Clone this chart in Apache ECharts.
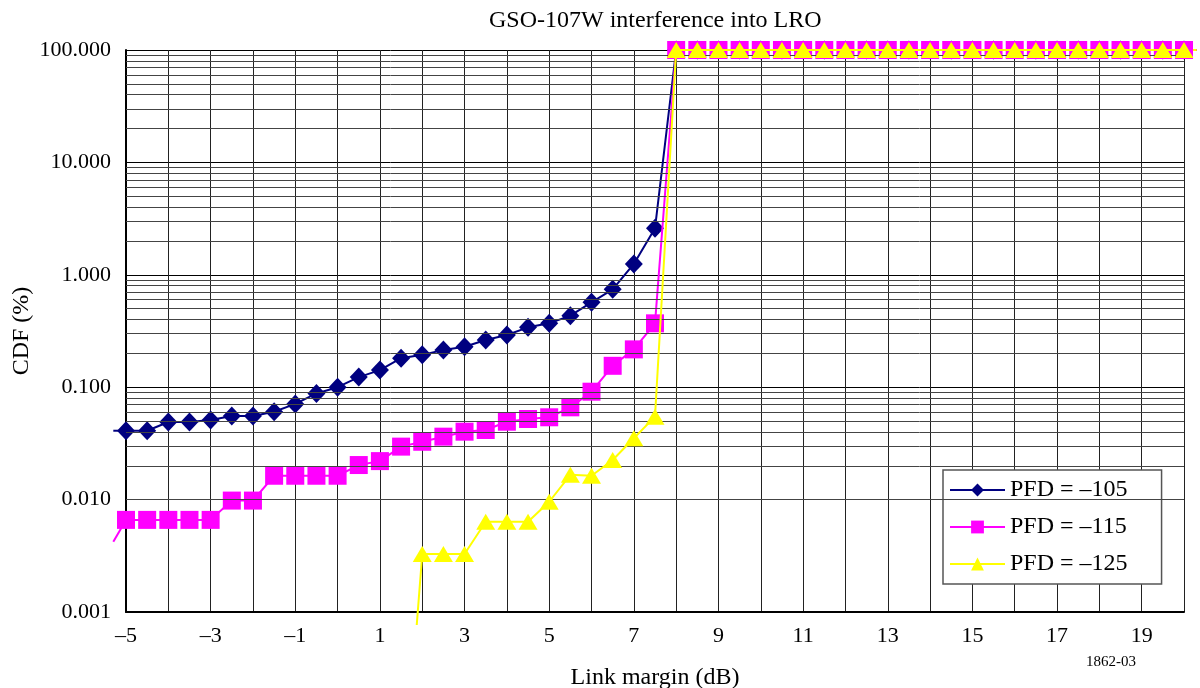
<!DOCTYPE html>
<html>
<head>
<meta charset="utf-8">
<script src="https://cdn.jsdelivr.net/npm/echarts@6/dist/echarts.min.js"></script>
<style>
html,body{margin:0;padding:0;background:#fff;}
#chart{width:1200px;height:688px;}
</style>
</head>
<body>
<div id="chart"></div>
<script>
// ---- data ----
const title = 'GSO-107W interference into LRO';
const xName = 'Link margin (dB)';
const yName = 'CDF (%)';
const figNote = '1862-03';
const seriesNames = ['PFD = \u2013105', 'PFD = \u2013115', 'PFD = \u2013125'];

// x positions (dB) of the markers
const xMarks = [-5,-4.5,-4,-3.5,-3,-2.5,-2,-1.5,-1,-0.5,0,0.5,1,1.5,2,2.5,3,3.5,4,4.5,5,5.5,6,6.5,7,7.5,
                8,8.5,9,9.5,10,10.5,11,11.5,12,12.5,13,13.5,14,14.5,15,15.5,16,16.5,17,17.5,18,18.5,19,19.5,20];

const pfd105 = [0.041,0.041,0.049,0.049,0.051,0.0555,0.0555,0.0605,0.071,0.088,0.100,0.123,
                0.142,0.181,0.194,0.214,0.229,0.263,0.291,0.341,0.370,0.433,0.569,0.743,1.25,2.59,
                100,100,100,100,100,100,100,100,100,100,100,100,100,100,100,100,100,100,100,100,100,100,100,100,100];
const pfd115 = [0.0066,0.0066,0.0066,0.0066,0.0066,0.0098,0.0098,0.0163,0.0163,0.0163,0.0163,0.0203,
                0.0220,0.0296,0.0327,0.0363,0.0402,0.0416,0.0493,0.0521,0.054,0.0662,0.0912,0.155,0.217,0.370,
                100,100,100,100,100,100,100,100,100,100,100,100,100,100,100,100,100,100,100,100,100,100,100,100,100];
// PFD = -125 has markers from 2 dB on
const xMarks125 = [2,2.5,3,3.5,4,4.5,5,5.5,6,6.5,7,7.5,
                8,8.5,9,9.5,10,10.5,11,11.5,12,12.5,13,13.5,14,14.5,15,15.5,16,16.5,17,17.5,18,18.5,19,19.5,20];
const pfd125 = [0.00328,0.00328,0.00328,0.00635,0.00635,0.00635,0.00957,0.0166,0.0163,0.0225,0.0351,0.0547,
                100,100,100,100,100,100,100,100,100,100,100,100,100,100,100,100,100,100,100,100,100,100,100,100,100];

// visible line ends just outside the plot frame (no marker): [x, value]
const lead105 = [-5.3, 0.041];
const lead115 = [-5.3, 0.00422];
const lead125 = [1.87, 0.000766];
const tailAll = [20.3, 100];

// axis ticks
const xMin = -5, xMax = 20, xStep = 1;
const yMin = 0.001, yMax = 100;
const minorMultipliers = [2,3,4,5,6,7,8,9];

const colors = ['#000080', '#FF00FF', '#FFFF00'];
const FONT = '"Liberation Serif", "Times New Roman", serif';

function build(xs, ys) {
  return xs.map((x, i) => [x, ys[i]]);
}

const minorLines = [];
for (let e = -3; e < 2; e++) {
  minorMultipliers.forEach(m => minorLines.push({yAxis: m * Math.pow(10, e)}));
}

const chart = echarts.init(document.getElementById('chart'), null, {renderer: 'canvas'});
const option = {
  animation: false,
  backgroundColor: '#fff',
  textStyle: {fontFamily: FONT, color: '#000'},
  grid: {left: 126, right: 16, top: 50, bottom: 76, containLabel: false, outerBoundsMode: 'none'},
  xAxis: {
    type: 'value', min: xMin, max: xMax, interval: xStep,
    name: xName, nameLocation: 'middle', nameGap: 54,
    nameTextStyle: {fontFamily: FONT, fontSize: 24, color: '#000'},
    axisLine: {show: true, onZero: false, lineStyle: {color: '#000', width: 2}},
    axisTick: {show: false},
    axisLabel: {
      fontFamily: FONT, fontSize: 22, color: '#000', margin: 13,
      showMaxLabel: false,
      formatter: v => (Math.round((v - xMin) / xStep) % 2 === 0 && v < xMax) ? (v < 0 ? '\u2013' + Math.abs(v) : String(v)) : ''
    },
    splitLine: {show: true, lineStyle: {color: '#222', width: 1}}
  },
  yAxis: {
    type: 'log', logBase: 10, min: yMin, max: yMax,
    name: yName, nameLocation: 'middle', nameGap: 92, nameRotate: 90, nameMoveOverlap: false,
    nameTextStyle: {fontFamily: FONT, fontSize: 24, color: '#000'},
    axisLine: {show: true, onZero: false, lineStyle: {color: '#000', width: 2}},
    axisTick: {show: false},
    axisLabel: {fontFamily: FONT, fontSize: 22, color: '#000', margin: 15,
      formatter: v => Number(v).toFixed(3)},
    splitLine: {show: true, lineStyle: {color: '#000', width: 1}}
  },
  legend: {
    orient: 'vertical', left: 943, top: 470,
    backgroundColor: '#fff', borderColor: '#555', borderWidth: 1.5,
    padding: [8, 34, 8, 6], itemGap: 13, itemWidth: 55, itemHeight: 16,
    textStyle: {fontFamily: FONT, fontSize: 24, color: '#000'},
    data: seriesNames
  },
  graphic: [
    {type: 'text', id: 'title', left: 655 - 166, top: 9, z: 10,
     style: {text: title, font: '24px ' + FONT, fill: '#000'}},
    {type: 'text', id: 'note', left: 1086, top: 655, z: 10,
     style: {text: figNote, font: '15px ' + FONT, fill: '#000'}}
  ],
  series: [
    {
      type: 'line', name: '__grid', data: [], silent: true,
      markLine: {silent: true, symbol: 'none', label: {show: false},
        lineStyle: {color: '#444', width: 1, type: 'solid'}, data: minorLines, animation: false}
    },
    {
      type: 'line', name: seriesNames[0], clip: false, z: 3,
      data: build(xMarks, pfd105),
      symbol: 'diamond', symbolSize: [18, 19],
      itemStyle: {color: colors[0]}, lineStyle: {color: colors[0], width: 2}
    },
    {
      type: 'line', name: seriesNames[1], clip: false, z: 4,
      data: build(xMarks, pfd115),
      symbol: 'rect', symbolSize: 18,
      itemStyle: {color: colors[1]}, lineStyle: {color: colors[1], width: 2}
    },
    {
      type: 'line', name: seriesNames[2], clip: false, z: 5,
      data: [{value: lead125, symbol: 'none'}].concat(build(xMarks125, pfd125)),
      symbol: 'triangle', symbolSize: [19, 16],
      itemStyle: {color: colors[2]}, lineStyle: {color: colors[2], width: 2}
    }
  ]
};
chart.setOption(option);

// line ends that run just past the left/right frame, positioned through the chart's own scales
const toPx = pt => chart.convertToPixel({xAxisIndex: 0, yAxisIndex: 0}, pt);
const ends = [
  [lead105, [xMarks[0], pfd105[0]], colors[0], 3],
  [lead115, [xMarks[0], pfd115[0]], colors[1], 4],
  [[xMarks[xMarks.length - 1], pfd105[pfd105.length - 1]], tailAll, colors[0], 3],
  [[xMarks[xMarks.length - 1], pfd115[pfd115.length - 1]], tailAll, colors[1], 4],
  [[xMarks125[xMarks125.length - 1], pfd125[pfd125.length - 1]], tailAll, colors[2], 5]
];
const extra = ends.map((e, i) => {
  const a = toPx(e[0]), b = toPx(e[1]);
  return {type: 'line', id: 'end' + i, z: 1, silent: true,
          shape: {x1: a[0], y1: a[1], x2: b[0], y2: b[1]},
          style: {stroke: e[2], lineWidth: 2}};
});
chart.setOption({graphic: extra});
</script>
</body>
</html>
